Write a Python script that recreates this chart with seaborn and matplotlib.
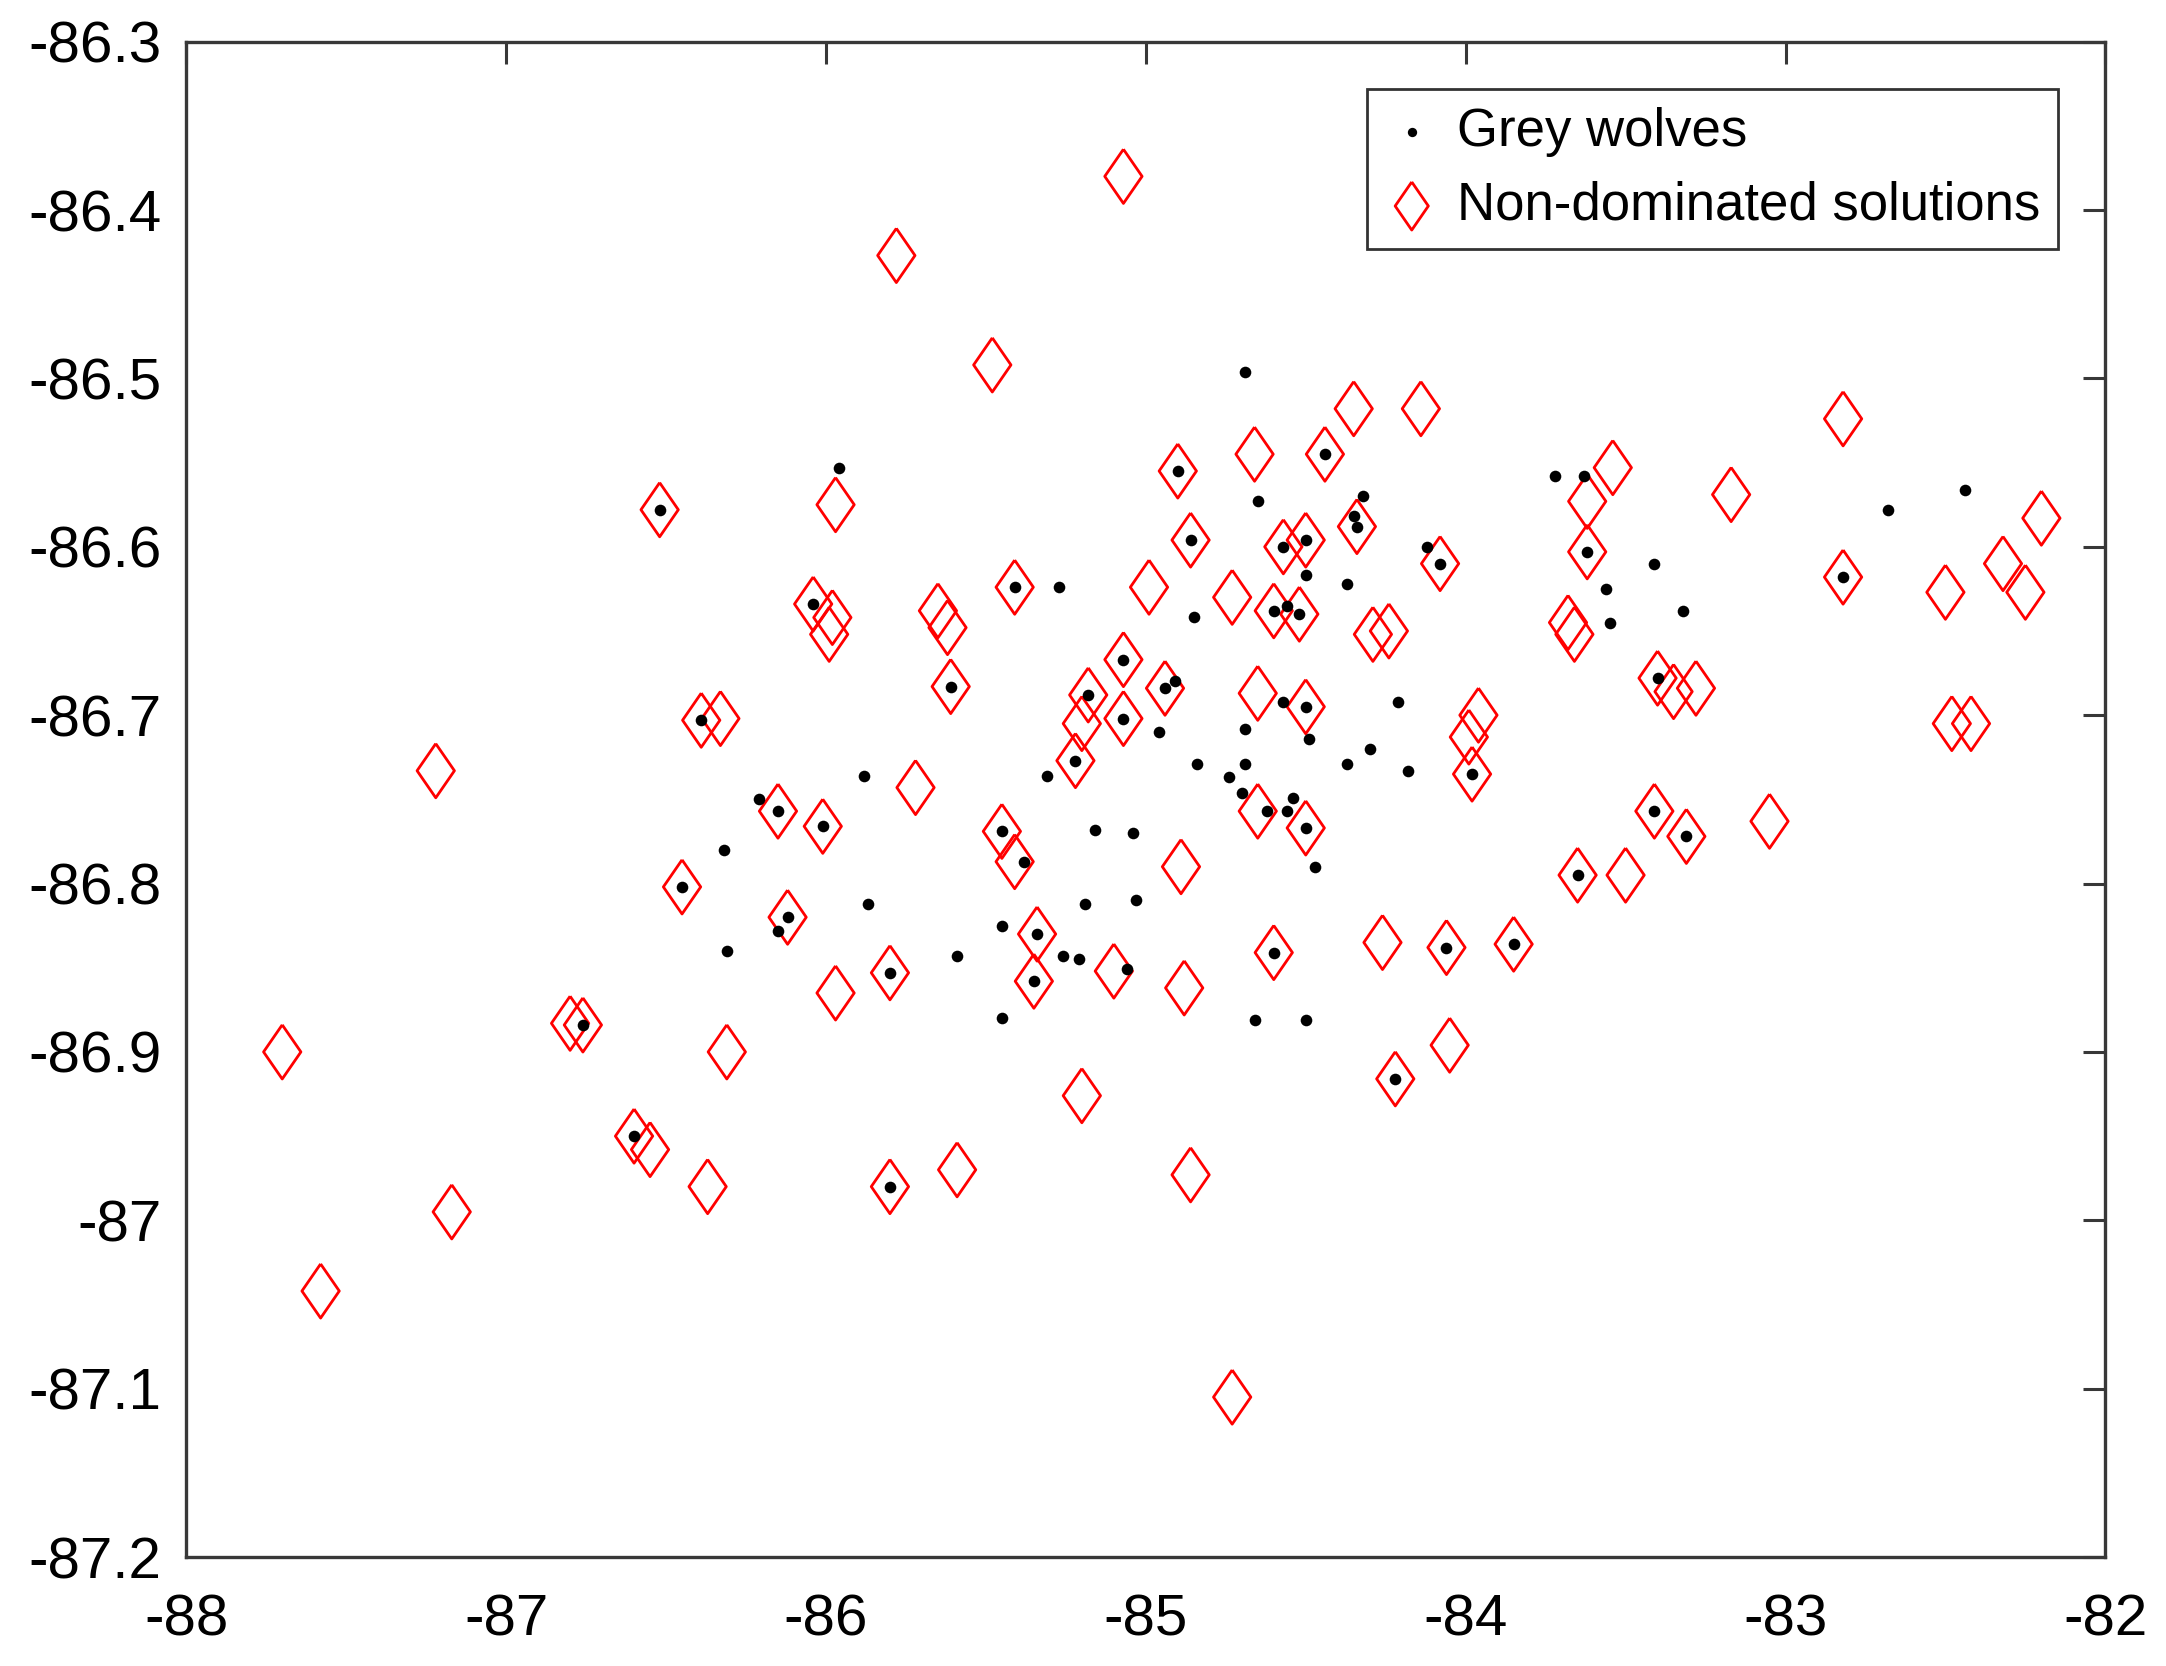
import numpy as np
import pandas as pd
import matplotlib
matplotlib.use("Agg")
import matplotlib.pyplot as plt
import seaborn as sns
from matplotlib.ticker import FuncFormatter

# Non-dominated solutions (red diamonds)
nd_x = [-85.07, -85.78, -85.48, -86.52, -85.97, -84.90, -84.66, -84.44, -84.35, -84.14,
        -82.82, -83.54, -83.62, -83.17, -82.20, -84.86, -84.57, -84.50, -84.34, -83.62,
        -84.08, -82.32, -82.25, -82.50, -82.82, -86.04, -85.98, -85.99, -85.65, -85.62,
        -85.41, -84.99, -84.73, -84.60, -84.52, -84.29, -84.24, -83.68, -83.66, -85.61,
        -85.07, -85.18, -84.94, -84.65, -84.50, -86.39, -86.33, -85.20, -85.07, -83.99,
        -83.96, -83.98, -83.40, -83.35, -83.28, -82.48, -82.42, -87.22, -85.22, -85.72,
        -86.15, -86.01, -85.45, -85.41, -84.65, -84.50, -83.41, -83.31, -83.05, -86.45,
        -84.89, -83.65, -83.50, -86.12, -85.34, -84.26, -84.06, -83.85, -84.60, -85.80,
        -85.97, -85.35, -85.10, -84.88, -86.80, -86.76, -87.70, -86.31, -85.20, -84.22,
        -84.05, -86.60, -86.55, -86.37, -85.80, -85.59, -84.86, -87.17, -87.58, -84.73]
nd_y = [-86.380, -86.427, -86.492, -86.578, -86.575, -86.555, -86.545, -86.545, -86.518, -86.518,
        -86.524, -86.553, -86.573, -86.569, -86.583, -86.596, -86.600, -86.596, -86.588, -86.603,
        -86.610, -86.610, -86.627, -86.627, -86.618, -86.634, -86.642, -86.652, -86.638, -86.648,
        -86.624, -86.624, -86.630, -86.638, -86.640, -86.652, -86.650, -86.645, -86.652, -86.683,
        -86.667, -86.688, -86.684, -86.687, -86.695, -86.703, -86.702, -86.705, -86.702, -86.713,
        -86.700, -86.735, -86.678, -86.686, -86.684, -86.705, -86.705, -86.733, -86.727, -86.743,
        -86.757, -86.766, -86.769, -86.787, -86.757, -86.767, -86.757, -86.772, -86.763, -86.802,
        -86.790, -86.795, -86.795, -86.820, -86.830, -86.835, -86.838, -86.836, -86.841, -86.853,
        -86.865, -86.858, -86.852, -86.862, -86.883, -86.884, -86.900, -86.900, -86.926, -86.916,
        -86.896, -86.950, -86.958, -86.980, -86.980, -86.970, -86.973, -86.995, -87.042, -87.105]

# Grey wolves (black dots): those sitting inside diamonds plus the loose ones
wolf_x = [-86.52, -84.90, -84.44, -84.86, -84.57, -84.50, -84.34, -83.62, -84.08, -82.82,
          -86.04, -85.41, -84.60, -84.52, -85.61, -85.07, -85.18, -84.94, -84.50, -86.39,
          -85.07, -83.98, -83.40, -85.22, -86.15, -86.01, -85.45, -84.50, -83.41, -83.31,
          -86.45, -83.65, -86.12, -85.34, -84.06, -83.85, -84.60, -85.80, -85.35, -86.76,
          -84.22, -86.60, -85.80,
          -85.96, -84.69, -84.65, -84.32, -84.35, -83.72, -83.63, -82.68, -82.44, -85.27,
          -84.85, -84.56, -84.50, -84.37, -84.12, -83.41, -83.56, -83.55, -83.32, -84.91,
          -84.96, -84.57, -84.49, -84.21, -84.69, -84.84, -84.69, -84.74, -84.70, -84.54,
          -84.37, -84.30, -84.18, -84.62, -84.56, -84.47, -85.88, -86.21, -86.32, -85.31,
          -85.38, -85.16, -85.04, -85.03, -85.19, -85.87, -86.15, -86.31, -85.59, -85.45,
          -85.26, -85.21, -85.06, -85.45, -84.66, -84.50]
wolf_y = [-86.578, -86.555, -86.545, -86.596, -86.600, -86.596, -86.588, -86.603, -86.610, -86.618,
          -86.634, -86.624, -86.638, -86.640, -86.683, -86.667, -86.688, -86.684, -86.695, -86.703,
          -86.702, -86.735, -86.678, -86.727, -86.757, -86.766, -86.769, -86.767, -86.757, -86.772,
          -86.802, -86.795, -86.820, -86.830, -86.838, -86.836, -86.841, -86.853, -86.858, -86.884,
          -86.916, -86.950, -86.980,
          -86.553, -86.496, -86.573, -86.570, -86.582, -86.558, -86.558, -86.578, -86.566, -86.624,
          -86.642, -86.635, -86.617, -86.622, -86.600, -86.610, -86.625, -86.645, -86.638, -86.680,
          -86.710, -86.692, -86.714, -86.692, -86.708, -86.729, -86.729, -86.737, -86.746, -86.749,
          -86.729, -86.720, -86.733, -86.757, -86.757, -86.790, -86.736, -86.750, -86.780, -86.736,
          -86.787, -86.768, -86.770, -86.810, -86.812, -86.812, -86.828, -86.840, -86.843, -86.825,
          -86.843, -86.845, -86.851, -86.880, -86.881, -86.881]

wolves = pd.DataFrame({"x": wolf_x, "y": wolf_y})
nondom = pd.DataFrame({"x": nd_x, "y": nd_y})

sns.set_style("white")
plt.rcParams["font.family"] = ["Liberation Sans", "DejaVu Sans"]

# matlab-like diamond, a bit wider than matplotlib's thin diamond
diamond = [(0, 1), (0.69, 0), (0, -1), (-0.69, 0), (0, 1)]

fig = plt.figure(figsize=(21.66, 16.66), dpi=100)
ax = fig.add_axes([0.086, 0.0654, 0.886, 0.9096])

sns.scatterplot(data=wolves, x="x", y="y", ax=ax, color="black", s=70,
                linewidth=0, label="Grey wolves", zorder=3)
sns.scatterplot(data=nondom, x="x", y="y", ax=ax, marker=diamond, s=1520,
                facecolor="none", edgecolor="red", linewidth=2.0,
                label="Non-dominated solutions", zorder=2)

ax.set_xlim(-88, -82)
ax.set_ylim(-87.2, -86.3)
ax.set_xticks(np.arange(-88, -81.9, 1))
ax.set_yticks(np.arange(-87.2, -86.29, 0.1))
ax.xaxis.set_major_formatter(FuncFormatter(lambda v, p: f"{v:g}"))
ax.yaxis.set_major_formatter(FuncFormatter(lambda v, p: f"{round(v, 1):g}"))
ax.set_xlabel("")
ax.set_ylabel("")

ax.tick_params(direction="in", length=16, width=2.2, colors="#383838",
               labelsize=42, labelcolor="black", top=True, right=True)
ax.tick_params(axis="x", pad=26)
ax.tick_params(axis="y", pad=18)
for sp in ax.spines.values():
    sp.set_color("#383838")
    sp.set_linewidth(2.4)

leg = ax.legend(loc="upper right", fontsize=38, frameon=True, fancybox=False,
                edgecolor="black", borderpad=0.35, handlelength=1.0,
                handletextpad=0.35, labelspacing=0.45, borderaxespad=0,
                labelcolor="black", bbox_to_anchor=(0.9755, 0.969))
leg.get_frame().set_linewidth(2)
handles = leg.legend_handles
handles[0].set_sizes([45])
handles[1].set_sizes([1200])

fig.savefig("out.png", dpi=100)
